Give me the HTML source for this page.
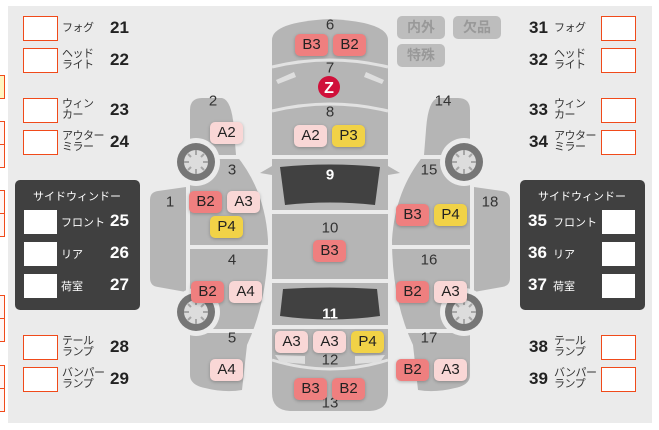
<!DOCTYPE html>
<html><head><meta charset="utf-8"><style>
body{margin:0;width:659px;height:430px;background:#fff;position:relative;overflow:hidden;font-family:"Liberation Sans","Noto Sans CJK JP",sans-serif;}
.a{position:absolute}
.bx{position:absolute;width:33px;height:23px;border:1.5px solid #f04a1a;background:#fff}
.wb{position:absolute;width:33px;height:24px;background:#fff}
.lb{position:absolute;font-size:11px;line-height:11px;color:#333;letter-spacing:-0.5px}
.nm{position:absolute;font-size:17px;font-weight:bold;color:#222}
.pn{position:absolute;background:#404040;border-radius:5px}
.pt{position:absolute;color:#fff;font-size:11px}
.wl{position:absolute;color:#fff;font-size:11px}
.wn{position:absolute;color:#fff;font-size:17px;font-weight:bold}
.bd{position:absolute;width:33px;height:22px;border-radius:5px;font-size:15px;line-height:22px;text-align:center;color:#222;box-shadow:0 1px 3px rgba(0,0,0,.25)}
.B{background:#ef7f7f}.A{background:#f9d7d6}.P{background:#f1d247}
.n{position:absolute;font-size:15px;color:#333;transform:translate(-50%,-50%)}
.tg{position:absolute;width:48px;height:23px;border-radius:5px;background:#bdbdbd;color:#999;font-size:14px;line-height:23px;text-align:center;font-weight:bold}
.ed{position:absolute;left:0;width:4px;height:22px;border:1px solid #f04a1a;border-left:none;background:#fff5f3}
</style></head><body>
<div class="a" style="left:8px;top:6px;width:644px;height:417px;background:#ebebeb"></div>
<div class="ed" style="top:75px;background:#fff5c0"></div>
<div class="ed" style="top:121px"></div><div class="ed" style="top:144px"></div>
<div class="ed" style="top:190px"></div><div class="ed" style="top:213px"></div>
<div class="ed" style="top:295px"></div><div class="ed" style="top:318px"></div>
<div class="ed" style="top:365px"></div><div class="ed" style="top:388px"></div>

<svg class="a" style="left:0;top:0" width="659" height="430">
<defs>
<g id="side">
<path d="M190,110 Q190,98 202,98 L222,98 Q232,100 234,130 L236,155 Q265,190 268,240 Q268,300 247,345 L242,390 Q225,393 205,388 Q190,385 190,375 Z" fill="#b5b5b5"/>
<path d="M150,200 Q150,192 158,191 L186,187 L186,292 L158,287 Q150,286 150,278 Z" fill="#b5b5b5"/>
<rect x="215" y="155" width="25" height="4" fill="#ebebeb"/>
<rect x="190" y="245" width="80" height="4" fill="#ebebeb"/>
<rect x="205" y="329" width="60" height="4" fill="#ebebeb"/>
<g id="wh"><circle cx="196" cy="162" r="24" fill="#ebebeb"/><circle cx="196" cy="162" r="19" fill="#767676"/><circle cx="196" cy="162" r="12" fill="#dcdcdc"/>
<g stroke="#a5a5a5" stroke-width="2"><line x1="196" y1="150" x2="196" y2="155"/><line x1="196" y1="169" x2="196" y2="174"/><line x1="184" y1="162" x2="189" y2="162"/><line x1="203" y1="162" x2="208" y2="162"/><line x1="188" y1="154" x2="191" y2="157"/><line x1="201" y1="167" x2="204" y2="170"/><line x1="204" y1="154" x2="201" y2="157"/><line x1="191" y1="167" x2="188" y2="170"/></g></g>
<use href="#wh" y="150"/>
</g>
</defs>
<use href="#side"/>
<use href="#side" transform="translate(660,0) scale(-1,1)"/>
<path d="M272,40 Q272,22 330,19 Q388,22 388,40 L388,393 Q388,410 370,411 L290,411 Q272,410 272,393 Z" fill="#b5b5b5"/>
<rect x="272" y="155" width="116" height="4" fill="#ebebeb"/>
<rect x="272" y="210" width="116" height="4" fill="#ebebeb"/>
<rect x="272" y="279" width="116" height="4" fill="#ebebeb"/>
<rect x="272" y="325" width="116" height="4" fill="#ebebeb"/>
<g fill="none" stroke="#e2e2e2" stroke-width="3">
<path d="M272,67 Q330,53 388,67"/><path d="M272,111 Q330,97 388,111"/><path d="M272,360 Q330,378 388,360"/></g>
<path d="M276,80 L294,72 L296,77 L278,84 Z" fill="#dedede"/><path d="M384,80 L366,72 L364,77 L382,84 Z" fill="#dedede"/>
<path d="M275,355 L305,356 L305,364 L280,362 Z" fill="#dedede"/><path d="M385,355 L355,356 L355,364 L380,362 Z" fill="#dedede"/>
<path d="M272,166 L260,173 L272,175 Z" fill="#b5b5b5"/><path d="M388,166 L400,173 L388,175 Z" fill="#b5b5b5"/>
<path d="M280,167 Q330,162 380,167 L375,205 Q330,200 285,205 Z" fill="#414141"/>
<path d="M283,289 Q330,286 377,289 L380,316 Q330,323 280,316 Z" fill="#414141"/>
<circle cx="329" cy="87" r="11" fill="#d0103a"/>
<text x="329" y="93" fill="#fff" font-size="16" font-weight="bold" text-anchor="middle" font-family="Liberation Sans">Z</text>
</svg>

<div class="n" style="left:330px;top:25px">6</div>
<div class="n" style="left:330px;top:68px">7</div>
<div class="n" style="left:330px;top:112px">8</div>
<div class="n" style="left:330px;top:175px;color:#fff;font-weight:bold">9</div>
<div class="n" style="left:330px;top:228px">10</div>
<div class="n" style="left:330px;top:314px;color:#fff;font-weight:bold">11</div>
<div class="n" style="left:330px;top:360px">12</div>
<div class="n" style="left:330px;top:403px">13</div>
<div class="n" style="left:213px;top:101px">2</div>
<div class="n" style="left:232px;top:170px">3</div>
<div class="n" style="left:170px;top:202px">1</div>
<div class="n" style="left:232px;top:260px">4</div>
<div class="n" style="left:232px;top:338px">5</div>
<div class="n" style="left:443px;top:101px">14</div>
<div class="n" style="left:429px;top:170px">15</div>
<div class="n" style="left:490px;top:202px">18</div>
<div class="n" style="left:429px;top:260px">16</div>
<div class="n" style="left:429px;top:338px">17</div>

<div class="bd B" style="left:295px;top:34px">B3</div><div class="bd B" style="left:333px;top:34px">B2</div>
<div class="bd A" style="left:294px;top:125px">A2</div><div class="bd P" style="left:332px;top:125px">P3</div>
<div class="bd B" style="left:313px;top:240px">B3</div>
<div class="bd A" style="left:275px;top:331px">A3</div><div class="bd A" style="left:313px;top:331px">A3</div><div class="bd P" style="left:351px;top:331px">P4</div>
<div class="bd B" style="left:294px;top:378px">B3</div><div class="bd B" style="left:332px;top:378px">B2</div>
<div class="bd A" style="left:210px;top:122px">A2</div>
<div class="bd B" style="left:189px;top:191px">B2</div><div class="bd A" style="left:227px;top:191px">A3</div>
<div class="bd P" style="left:210px;top:216px">P4</div>
<div class="bd B" style="left:191px;top:281px">B2</div><div class="bd A" style="left:229px;top:281px">A4</div>
<div class="bd A" style="left:210px;top:359px">A4</div>
<div class="bd B" style="left:396px;top:204px">B3</div><div class="bd P" style="left:434px;top:204px">P4</div>
<div class="bd B" style="left:396px;top:281px">B2</div><div class="bd A" style="left:434px;top:281px">A3</div>
<div class="bd B" style="left:396px;top:359px">B2</div><div class="bd A" style="left:434px;top:359px">A3</div>

<div class="tg" style="left:397px;top:16px">内外</div>
<div class="tg" style="left:453px;top:16px">欠品</div>
<div class="tg" style="left:397px;top:44px">特殊</div>

<!-- left column -->
<div class="bx" style="left:23px;top:16px"></div><div class="lb" style="left:62px;top:23px">フォグ</div><div class="nm" style="left:110px;top:18px">21</div>
<div class="bx" style="left:23px;top:48px"></div><div class="lb" style="left:62px;top:49px">ヘッド<br>ライト</div><div class="nm" style="left:110px;top:50px">22</div>
<div class="bx" style="left:23px;top:98px"></div><div class="lb" style="left:62px;top:99px">ウィン<br>カー</div><div class="nm" style="left:110px;top:100px">23</div>
<div class="bx" style="left:23px;top:130px"></div><div class="lb" style="left:62px;top:131px">アウター<br>ミラー</div><div class="nm" style="left:110px;top:132px">24</div>
<div class="pn" style="left:15px;top:180px;width:125px;height:130px"></div>
<div class="pt" style="left:33px;top:188px">サイドウィンドー</div>
<div class="wb" style="left:24px;top:210px"></div><div class="wl" style="left:61px;top:214px">フロント</div><div class="wn" style="left:110px;top:211px">25</div>
<div class="wb" style="left:24px;top:242px"></div><div class="wl" style="left:61px;top:246px">リア</div><div class="wn" style="left:110px;top:243px">26</div>
<div class="wb" style="left:24px;top:274px"></div><div class="wl" style="left:61px;top:278px">荷室</div><div class="wn" style="left:110px;top:275px">27</div>
<div class="bx" style="left:23px;top:335px"></div><div class="lb" style="left:62px;top:336px">テール<br>ランプ</div><div class="nm" style="left:110px;top:337px">28</div>
<div class="bx" style="left:23px;top:367px"></div><div class="lb" style="left:62px;top:368px">バンパー<br>ランプ</div><div class="nm" style="left:110px;top:369px">29</div>

<!-- right column -->
<div class="nm" style="left:529px;top:18px">31</div><div class="lb" style="left:554px;top:23px">フォグ</div><div class="bx" style="left:601px;top:16px"></div>
<div class="nm" style="left:529px;top:50px">32</div><div class="lb" style="left:554px;top:49px">ヘッド<br>ライト</div><div class="bx" style="left:601px;top:48px"></div>
<div class="nm" style="left:529px;top:100px">33</div><div class="lb" style="left:554px;top:99px">ウィン<br>カー</div><div class="bx" style="left:601px;top:98px"></div>
<div class="nm" style="left:529px;top:132px">34</div><div class="lb" style="left:554px;top:131px">アウター<br>ミラー</div><div class="bx" style="left:601px;top:130px"></div>
<div class="pn" style="left:520px;top:180px;width:125px;height:130px"></div>
<div class="pt" style="left:538px;top:188px">サイドウィンドー</div>
<div class="wn" style="left:528px;top:211px">35</div><div class="wl" style="left:553px;top:214px">フロント</div><div class="wb" style="left:602px;top:210px"></div>
<div class="wn" style="left:528px;top:243px">36</div><div class="wl" style="left:553px;top:246px">リア</div><div class="wb" style="left:602px;top:242px"></div>
<div class="wn" style="left:528px;top:275px">37</div><div class="wl" style="left:553px;top:278px">荷室</div><div class="wb" style="left:602px;top:274px"></div>
<div class="nm" style="left:529px;top:337px">38</div><div class="lb" style="left:554px;top:336px">テール<br>ランプ</div><div class="bx" style="left:601px;top:335px"></div>
<div class="nm" style="left:529px;top:369px">39</div><div class="lb" style="left:554px;top:368px">バンパー<br>ランプ</div><div class="bx" style="left:601px;top:367px"></div>
</body></html>
